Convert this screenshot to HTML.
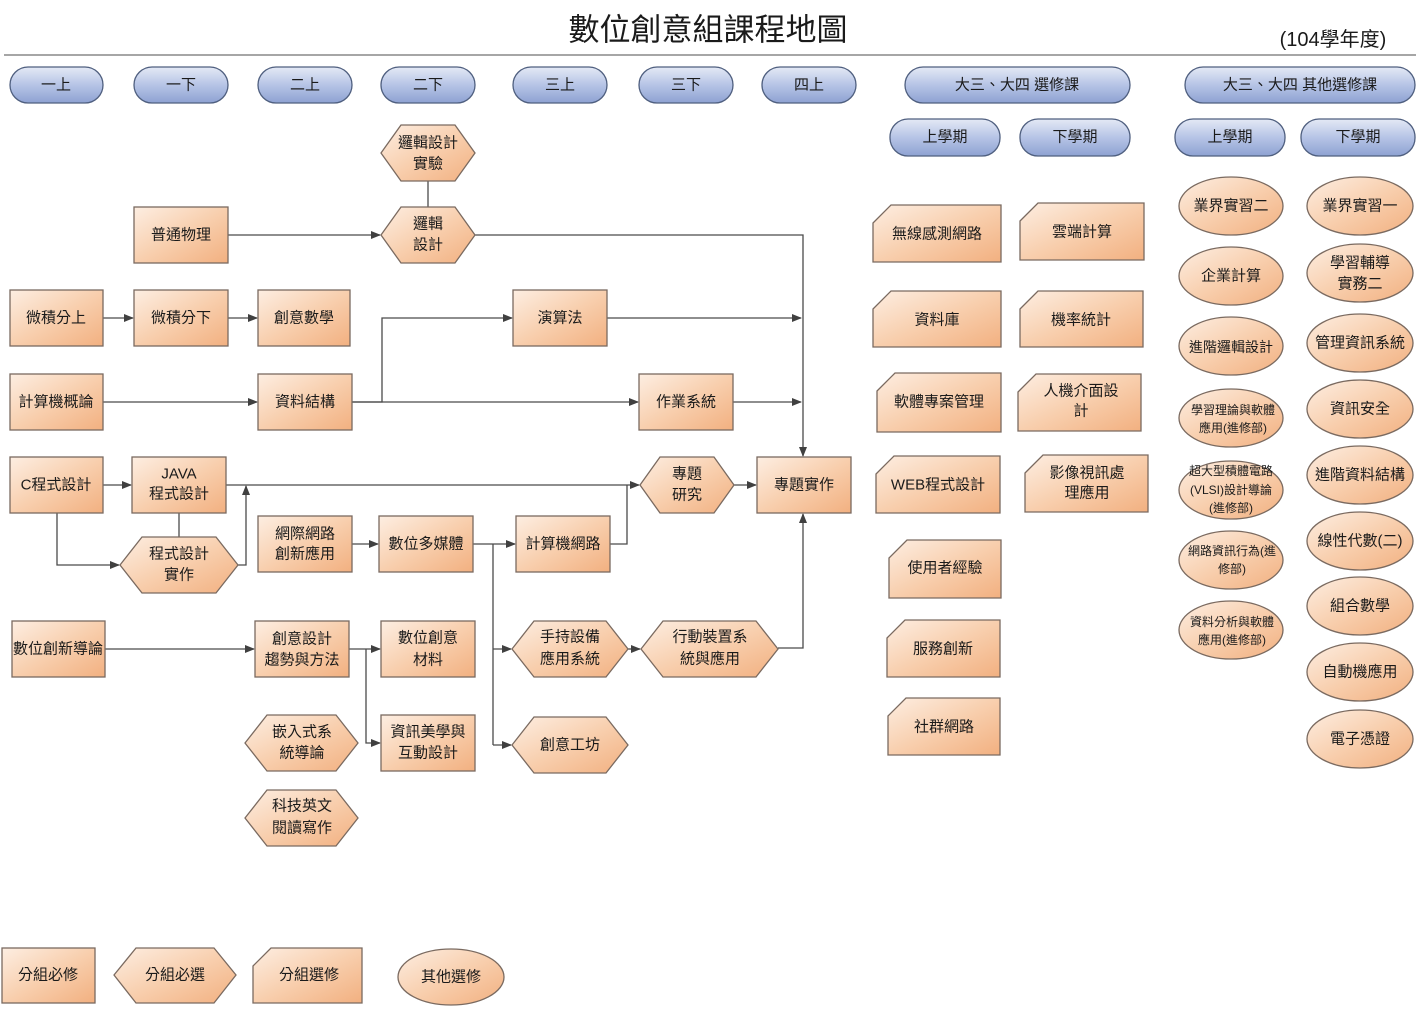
<!DOCTYPE html>
<html><head><meta charset="utf-8">
<style>
html,body{margin:0;padding:0;background:#fff;}
svg{display:block;}
text{font-family:"Liberation Sans","Noto Sans CJK TC",sans-serif;font-size:15px;fill:#1a1a1a;text-anchor:middle;dominant-baseline:central;}
.o{fill:url(#og);stroke:#7a6a60;stroke-width:1.3;}
.b{fill:url(#bg);stroke:#4f5f7f;stroke-width:1.3;}
.l{fill:none;stroke:#4a4a4a;stroke-width:1.3;}
.la{fill:none;stroke:#4a4a4a;stroke-width:1.3;marker-end:url(#ar);}
.s{font-size:12px;}
</style></head><body>
<svg width="1420" height="1009" viewBox="0 0 1420 1009" xmlns="http://www.w3.org/2000/svg">
<defs>
<linearGradient id="og" x1="0" y1="0" x2="1" y2="1">
<stop offset="0" stop-color="#fdeee2"/><stop offset="0.5" stop-color="#f8cfae"/><stop offset="1" stop-color="#f2b080"/>
</linearGradient>
<linearGradient id="bg" x1="0" y1="0" x2="0" y2="1">
<stop offset="0" stop-color="#e4e9f5"/><stop offset="0.5" stop-color="#b6c4e6"/><stop offset="1" stop-color="#8ea2d2"/>
</linearGradient>
<marker id="ar" markerWidth="10" markerHeight="10" refX="9" refY="5" orient="auto" markerUnits="userSpaceOnUse">
<path d="M0,1 L10,5 L0,9 z" fill="#404040"/>
</marker>
</defs>

<text x="708" y="30" style="font-size:31px">數位創意組課程地圖</text>
<text x="1333" y="40" style="font-size:20px">(104學年度)</text>
<line x1="4" y1="55" x2="1416" y2="55" stroke="#888" stroke-width="1.5"/>

<!-- pills -->
<rect class="b" x="10" y="67" width="93" height="36" rx="18"/><text x="56" y="85">一上</text>
<rect class="b" x="134" y="67" width="94" height="36" rx="18"/><text x="181" y="85">一下</text>
<rect class="b" x="258" y="67" width="94" height="36" rx="18"/><text x="305" y="85">二上</text>
<rect class="b" x="381" y="67" width="94" height="36" rx="18"/><text x="428" y="85">二下</text>
<rect class="b" x="513" y="67" width="94" height="36" rx="18"/><text x="560" y="85">三上</text>
<rect class="b" x="639" y="67" width="94" height="36" rx="18"/><text x="686" y="85">三下</text>
<rect class="b" x="762" y="67" width="94" height="36" rx="18"/><text x="809" y="85">四上</text>
<rect class="b" x="905" y="67" width="225" height="36" rx="18"/><text x="1017" y="85">大三、大四 選修課</text>
<rect class="b" x="1185" y="67" width="230" height="36" rx="18"/><text x="1300" y="85">大三、大四 其他選修課</text>
<rect class="b" x="890" y="119" width="110" height="37" rx="18"/><text x="945" y="137">上學期</text>
<rect class="b" x="1020" y="119" width="110" height="37" rx="18"/><text x="1075" y="137">下學期</text>
<rect class="b" x="1175" y="119" width="110" height="37" rx="18"/><text x="1230" y="137">上學期</text>
<rect class="b" x="1301" y="119" width="114" height="37" rx="18"/><text x="1358" y="137">下學期</text>

<!-- connectors -->
<line class="l" x1="428" y1="181" x2="428" y2="207"/>
<line class="la" x1="228" y1="235" x2="380" y2="235"/>
<polyline class="la" points="475,235 803,235 803,456"/>
<line class="la" x1="103" y1="318" x2="133" y2="318"/>
<line class="la" x1="228" y1="318" x2="257" y2="318"/>
<line class="la" x1="607" y1="318" x2="801" y2="318"/>
<polyline class="la" points="352,402 382,402 382,318 512,318"/>
<line class="la" x1="352" y1="402" x2="638" y2="402"/>
<line class="la" x1="733" y1="402" x2="801" y2="402"/>
<line class="la" x1="103" y1="402" x2="257" y2="402"/>
<line class="la" x1="103" y1="485" x2="131" y2="485"/>
<polyline class="la" points="57,513 57,565 119,565"/>
<line class="l" x1="179" y1="513" x2="179" y2="537"/>
<polyline class="la" points="238,565 246,565 246,486"/>
<line class="la" x1="226" y1="485" x2="639" y2="485"/>
<polyline class="l" points="610,544 627,544 627,485"/>
<line class="la" x1="734" y1="485" x2="756" y2="485"/>
<line class="la" x1="352" y1="544" x2="378" y2="544"/>
<line class="la" x1="473" y1="544" x2="515" y2="544"/>
<polyline class="l" points="493,544 493,745"/>
<line class="la" x1="493" y1="649" x2="511" y2="649"/>
<line class="la" x1="493" y1="745" x2="511" y2="745"/>
<line class="la" x1="105" y1="649" x2="254" y2="649"/>
<line class="la" x1="349" y1="649" x2="380" y2="649"/>
<polyline class="la" points="366,649 366,743 380,743"/>
<line class="la" x1="628" y1="649" x2="640" y2="649"/>
<polyline class="la" points="778,648 803,648 803,514"/>

<!-- rects -->
<rect class="o" x="134" y="207" width="94" height="56"/><text x="181" y="235">普通物理</text>
<rect class="o" x="10" y="290" width="93" height="56"/><text x="56" y="318">微積分上</text>
<rect class="o" x="134" y="290" width="94" height="56"/><text x="181" y="318">微積分下</text>
<rect class="o" x="258" y="290" width="92" height="56"/><text x="304" y="318">創意數學</text>
<rect class="o" x="513" y="290" width="94" height="56"/><text x="560" y="318">演算法</text>
<rect class="o" x="10" y="374" width="93" height="56"/><text x="56" y="402">計算機概論</text>
<rect class="o" x="258" y="374" width="94" height="56"/><text x="305" y="402">資料結構</text>
<rect class="o" x="639" y="374" width="94" height="56"/><text x="686" y="402">作業系統</text>
<rect class="o" x="10" y="457" width="93" height="56"/><text x="56" y="485">C程式設計</text>
<rect class="o" x="132" y="457" width="94" height="56"/><text x="179" y="474">JAVA</text><text x="179" y="494">程式設計</text>
<rect class="o" x="757" y="457" width="94" height="56"/><text x="804" y="485">專題實作</text>
<rect class="o" x="258" y="516" width="94" height="56"/><text x="305" y="534">網際網路</text><text x="305" y="554">創新應用</text>
<rect class="o" x="379" y="516" width="94" height="56"/><text x="426" y="544">數位多媒體</text>
<rect class="o" x="516" y="516" width="94" height="56"/><text x="563" y="544">計算機網路</text>
<rect class="o" x="12" y="621" width="93" height="56"/><text x="58" y="649">數位創新導論</text>
<rect class="o" x="255" y="621" width="94" height="56"/><text x="302" y="639">創意設計</text><text x="302" y="660">趨勢與方法</text>
<rect class="o" x="381" y="621" width="94" height="56"/><text x="428" y="638">數位創意</text><text x="428" y="660">材料</text>
<rect class="o" x="381" y="715" width="94" height="56"/><text x="428" y="732">資訊美學與</text><text x="428" y="753">互動設計</text>

<!-- hexagons -->
<polygon class="o" points="381,153 401,125 455,125 475,153 455,181 401,181"/><text x="428" y="143">邏輯設計</text><text x="428" y="164">實驗</text>
<polygon class="o" points="381,235 401,207 455,207 475,235 455,263 401,263"/><text x="428" y="224">邏輯</text><text x="428" y="245">設計</text>
<polygon class="o" points="120,565 142,537 216,537 238,565 216,593 142,593"/><text x="179" y="554">程式設計</text><text x="179" y="575">實作</text>
<polygon class="o" points="640,485 660,457 714,457 734,485 714,513 660,513"/><text x="687" y="474">專題</text><text x="687" y="495">研究</text>
<polygon class="o" points="512,649 534,621 606,621 628,649 606,677 534,677"/><text x="570" y="637">手持設備</text><text x="570" y="659">應用系統</text>
<polygon class="o" points="641,649 663,621 756,621 778,649 756,677 663,677"/><text x="710" y="637">行動裝置系</text><text x="710" y="659">統與應用</text>
<polygon class="o" points="245,743 267,715 336,715 358,743 336,771 267,771"/><text x="302" y="732">嵌入式系</text><text x="302" y="753">統導論</text>
<polygon class="o" points="245,818 267,790 336,790 358,818 336,846 267,846"/><text x="302" y="806">科技英文</text><text x="302" y="828">閱讀寫作</text>
<polygon class="o" points="512,745 534,717 606,717 628,745 606,773 534,773"/><text x="570" y="745">創意工坊</text>

<!-- snipped -->
<polygon class="o" points="873,223 891,205 1001,205 1001,262 873,262"/><text x="937" y="234">無線感測網路</text>
<polygon class="o" points="1020,221 1038,203 1144,203 1144,260 1020,260"/><text x="1082" y="232">雲端計算</text>
<polygon class="o" points="873,309 891,291 1001,291 1001,347 873,347"/><text x="937" y="320">資料庫</text>
<polygon class="o" points="1020,309 1038,291 1143,291 1143,347 1020,347"/><text x="1081" y="320">機率統計</text>
<polygon class="o" points="877,391 895,373 1001,373 1001,432 877,432"/><text x="939" y="402">軟體專案管理</text>
<polygon class="o" points="1018,392 1036,374 1141,374 1141,431 1018,431"/><text x="1081" y="391">人機介面設</text><text x="1081" y="411">計</text>
<polygon class="o" points="876,474 894,456 1000,456 1000,513 876,513"/><text x="938" y="485">WEB程式設計</text>
<polygon class="o" points="1025,473 1043,455 1148,455 1148,512 1025,512"/><text x="1087" y="473">影像視訊處</text><text x="1087" y="493">理應用</text>
<polygon class="o" points="889,558 907,540 1001,540 1001,598 889,598"/><text x="945" y="568">使用者經驗</text>
<polygon class="o" points="887,638 905,620 1000,620 1000,677 887,677"/><text x="943" y="649">服務創新</text>
<polygon class="o" points="888,716 906,698 1000,698 1000,755 888,755"/><text x="944" y="727">社群網路</text>

<!-- ellipses left -->
<ellipse class="o" cx="1231" cy="206" rx="52" ry="29"/><text x="1231" y="206">業界實習二</text>
<ellipse class="o" cx="1231" cy="276" rx="52" ry="29"/><text x="1231" y="276">企業計算</text>
<ellipse class="o" cx="1231" cy="346" rx="52" ry="29"/><text x="1231" y="347" style="font-size:14px">進階邏輯設計</text>
<ellipse class="o" cx="1231" cy="418" rx="52" ry="29"/><text class="s" x="1233" y="410">學習理論與軟體</text><text class="s" x="1233" y="428">應用(進修部)</text>
<ellipse class="o" cx="1231" cy="490" rx="52" ry="29"/><text class="s" x="1231" y="471">超大型積體電路</text><text class="s" x="1231" y="490">(VLSI)設計導論</text><text class="s" x="1231" y="508">(進修部)</text>
<ellipse class="o" cx="1231" cy="560" rx="52" ry="29"/><text class="s" x="1232" y="551">網路資訊行為(進</text><text class="s" x="1232" y="569">修部)</text>
<ellipse class="o" cx="1231" cy="630" rx="52" ry="29"/><text class="s" x="1232" y="622">資料分析與軟體</text><text class="s" x="1232" y="640">應用(進修部)</text>
<!-- ellipses right -->
<ellipse class="o" cx="1360" cy="206" rx="53" ry="29"/><text x="1360" y="206">業界實習一</text>
<ellipse class="o" cx="1360" cy="273" rx="53" ry="29"/><text x="1360" y="263">學習輔導</text><text x="1360" y="284">實務二</text>
<ellipse class="o" cx="1360" cy="343" rx="53" ry="29"/><text x="1360" y="343">管理資訊系統</text>
<ellipse class="o" cx="1360" cy="409" rx="53" ry="29"/><text x="1360" y="409">資訊安全</text>
<ellipse class="o" cx="1360" cy="475" rx="53" ry="29"/><text x="1360" y="475">進階資料結構</text>
<ellipse class="o" cx="1360" cy="541" rx="53" ry="29"/><text x="1360" y="541">線性代數(二)</text>
<ellipse class="o" cx="1360" cy="606" rx="53" ry="29"/><text x="1360" y="606">組合數學</text>
<ellipse class="o" cx="1360" cy="672" rx="53" ry="29"/><text x="1360" y="672">自動機應用</text>
<ellipse class="o" cx="1360" cy="739" rx="53" ry="29"/><text x="1360" y="739">電子憑證</text>

<!-- legend -->
<rect class="o" x="2" y="948" width="93" height="55"/><text x="48" y="975">分組必修</text>
<polygon class="o" points="114,975 136,948 214,948 236,975 214,1003 136,1003"/><text x="175" y="975">分組必選</text>
<polygon class="o" points="253,966 271,948 362,948 362,1003 253,1003"/><text x="309" y="975">分組選修</text>
<ellipse class="o" cx="451" cy="977" rx="53" ry="28"/><text x="451" y="977">其他選修</text>
</svg>
</body></html>
